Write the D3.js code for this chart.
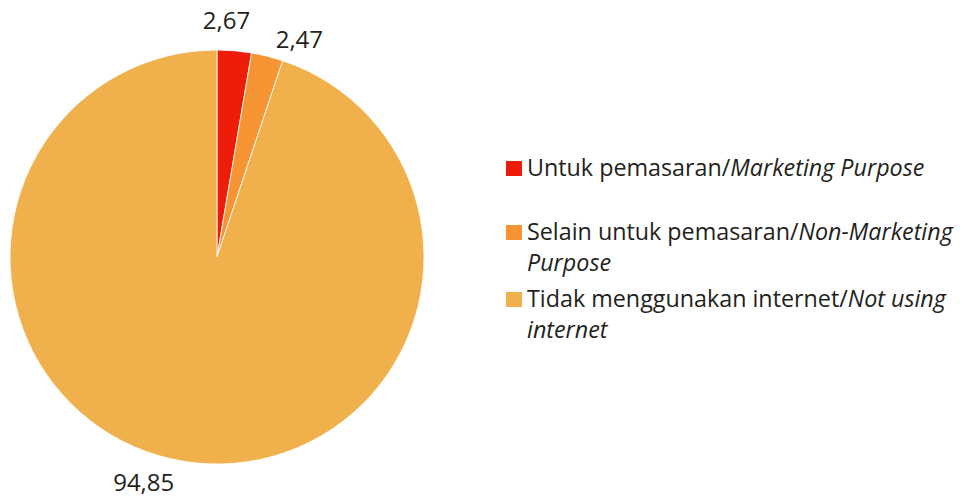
<!DOCTYPE html>
<html>
<head>
<meta charset="utf-8">
<script src="https://cdn.jsdelivr.net/npm/d3@7"></script>
<style>
  body { margin: 0; background: #fff; }
  svg text { font-family: "Open Sans", "Noto Sans", sans-serif; fill: #231f20; }
</style>
</head>
<body>
<div id="chart"></div>
<script>
// data
var categories = ["Untuk pemasaran", "Selain untuk pemasaran", "Tidak menggunakan internet"];
var categoriesEn = ["Marketing Purpose", "Non-Marketing Purpose", "Not using internet"];
var values = [2.67, 2.47, 94.85];
var valueLabels = ["2,67", "2,47", "94,85"];
var colors = ["#ee1d0a", "#f69433", "#f0b04b"];

var width = 963, height = 502;
var cx = 217, cy = 257, radius = 207;

var svg = d3.select("#chart")
    .append("svg")
    .attr("width", width)
    .attr("height", height);

var g = svg.append("g")
    .attr("transform", "translate(" + cx + "," + cy + ")");

var pie = d3.pie().sort(null).value(function (d) { return d; });
var arcs = pie(values);

var arc = d3.arc().innerRadius(0).outerRadius(radius);
var labelArc = d3.arc().innerRadius(232).outerRadius(232);

g.selectAll("path.slice")
    .data(arcs)
    .enter()
    .append("path")
    .attr("class", "slice")
    .attr("d", arc)
    .attr("fill", function (d, i) { return colors[i]; })
    .attr("stroke", "#fff")
    .attr("stroke-width", 0.8);

// small nudges like excel's best-fit label placement
var nudge = [[-10, -6], [26, 7], [-36, -4]];

g.selectAll("text.val")
    .data(arcs)
    .enter()
    .append("text")
    .attr("class", "val")
    .attr("x", function (d, i) { return labelArc.centroid(d)[0] + nudge[i][0]; })
    .attr("y", function (d, i) { return labelArc.centroid(d)[1] + nudge[i][1]; })
    .attr("text-anchor", "middle")
    .attr("dominant-baseline", "central")
    .style("font-size", "24px")
    .text(function (d, i) { return valueLabels[i]; });

// legend
var legendX = 506, textX = 527, lineH = 31;
var legendTops = [161, 225, 292];
var wraps = [false, true, true];

var legend = svg.append("g");

categories.forEach(function (c, i) {
    var y0 = legendTops[i];
    legend.append("rect")
        .attr("x", legendX)
        .attr("y", y0)
        .attr("width", 16)
        .attr("height", 15)
        .attr("fill", colors[i]);

    var t = legend.append("text")
        .attr("x", textX)
        .attr("y", y0 + 15)
        .style("font-size", "23.3px");

    var en = categoriesEn[i];
    var first = en, second = null;
    if (wraps[i]) {
        var parts = en.split(" ");
        if (i == 1) { first = parts[0]; second = parts.slice(1).join(" "); }
        else { first = parts.slice(0, 2).join(" "); second = parts.slice(2).join(" "); }
    }
    t.append("tspan").text(c + "/");
    t.append("tspan").style("font-style", "italic").text(first);
    if (second) {
        t.append("tspan")
            .attr("x", textX)
            .attr("dy", lineH)
            .style("font-style", "italic")
            .text(second);
    }
});
</script>
</body>
</html>
